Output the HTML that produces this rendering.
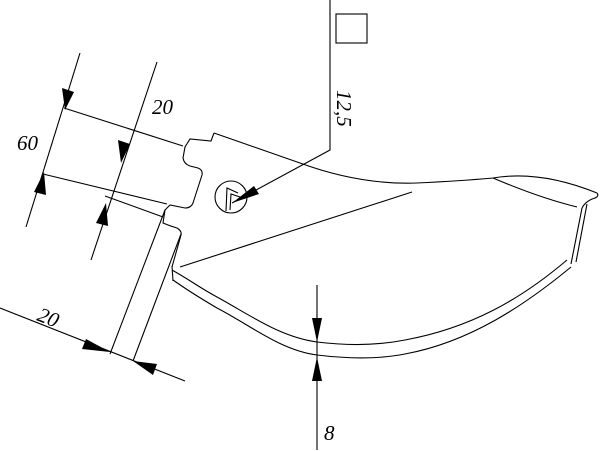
<!DOCTYPE html>
<html><head><meta charset="utf-8"><style>
html,body{margin:0;padding:0;background:#fff;}
svg{display:block;}
text{font-family:"Liberation Serif",serif;font-style:italic;font-size:21px;fill:#000;}
</style></head><body>
<svg width="600" height="451" viewBox="0 0 600 451" xmlns="http://www.w3.org/2000/svg">
<g fill="none" stroke="#000" stroke-width="1.1">
<polyline points="330,0 330,150 232,203"/>
<rect x="336" y="14" width="31" height="29"/>
<path d="M214,133 L211,141 L190,139 L185,147 L183,158 Q184,164 190,166 L198,168 Q203,170 202,175 L193,203 Q191,208 185,208 L170,205 L165,210 L163,223 Q170,226 177,228 Q182,231 181,235 L172,267"/>
<path d="M214,133 L300,163 Q360,185 417,183 Q460,181 493,178 Q540,170 597,193"/>
<path d="M597,193 Q600,197 592,199 Q585,202 582,208"/>
<path d="M493,178 Q540,198 577,207"/>
<path d="M582,208 L571,264"/>
<path d="M587,204 L576,262"/>
<path d="M172,270 C190,280 200,288 217,297 C250,315 280,337 317,342 C350,346 380,345 405,340 C470,328 520,300 567,260"/>
<path d="M173,280 C190,292 200,298 217,308 C250,325 280,350 317,355 C350,359 380,359 405,354 C470,342 525,305 571,267"/>
<path d="M172,266 L173,281"/>
<line x1="180" y1="267" x2="412" y2="192"/>
<circle cx="231" cy="197" r="16"/>
<polyline points="238,193 227,188 226,211"/>
<polyline points="230,210 231,194 240,197"/>
<line x1="165" y1="210" x2="110" y2="354"/>
<line x1="181" y1="234" x2="133" y2="361"/>
<line x1="80" y1="53" x2="26" y2="227"/>
<line x1="64" y1="108" x2="183" y2="146"/>
<line x1="43" y1="174" x2="167" y2="204"/>
<line x1="157" y1="62" x2="91" y2="260"/>
<line x1="105" y1="196" x2="163" y2="217"/>
<line x1="0" y1="308" x2="185" y2="381"/>
<line x1="317" y1="285" x2="317" y2="450"/>
</g>
<g fill="#000" stroke="none">
<polygon points="232,203 254,186 259,194"/>
<polygon points="65,110 62,88 74,92"/>
<polygon points="44,172 34,192 46,195"/>
<polygon points="121,163 118,140 130,144"/>
<polygon points="106,203 96,223 108,226"/>
<polygon points="110,352 86,339 82,349"/>
<polygon points="133,361 157,364 153,375"/>
<polygon points="317,342 312,318 322,318"/>
<polygon points="317,357 312,381 322,381"/>
</g>
<text x="17" y="150">60</text>
<text x="152" y="114">20</text>
<text x="0" y="0" transform="translate(36,320) rotate(22)">20</text>
<text x="324" y="440">8</text>
<text x="0" y="0" transform="translate(337,90) rotate(90)">12,5</text>
</svg>
</body></html>
